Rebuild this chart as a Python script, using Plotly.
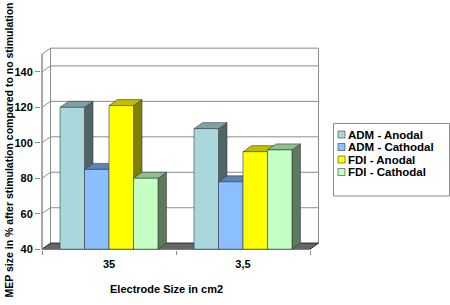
import plotly.graph_objects as go

# ---------------- data ----------------
categories = ["35", "3,5"]
series_names = ["ADM - Anodal", "ADM - Cathodal", "FDI - Anodal", "FDI - Cathodal"]
adm_anodal = [120, 108]
adm_cathodal = [85, 78]
fdi_anodal = [121, 95]
fdi_cathodal = [80, 96]
y_ticks = [40, 60, 80, 100, 120, 140]
y_top = 150
y_base = 40

series_values = [adm_anodal, adm_cathodal, fdi_anodal, fdi_cathodal]
front_colors = ["#A9D8DC", "#8CBFFF", "#FFFF00", "#C4FFC4"]
top_colors = ["#7EA1A4", "#5E82B6", "#BFBF00", "#8FBE8F"]
side_colors = ["#4F6466", "#46608A", "#7F7F00", "#5C7A5C"]

# ---------------- geometry ----------------
W, H = 450, 305
L, R, T, B = 41, 322, 40, 250
px_per_x = 134.0
px_per_y = 1.773
x0_px = 42.0          # pixel of x = -0.5
y40_px = 249.2        # pixel of y = 40
xmin = -0.5 - (x0_px - L) / px_per_x
xmax = xmin + (R - L) / px_per_x
ymin = y_base - (B - y40_px) / px_per_y
ymax = ymin + (B - T) / px_per_y
dx = 8.5 / px_per_x
dy = 6.0 / px_per_y
bargap = 0.269
n = len(series_values)
bw = (1 - bargap) / n
xs = list(range(len(categories)))
xl, xr = -0.5, len(categories) - 0.5

def poly(pts):
    return "M " + " L ".join(f"{a},{b}" for a, b in pts) + " Z"

shapes = []
grid_c = "#8C8C8C"
# back wall
shapes.append(dict(type="rect", x0=xl + dx, x1=xr + dx, y0=y_base + dy, y1=y_top + dy,
                   fillcolor="white", line=dict(color=grid_c, width=1), layer="below"))
# left side wall
shapes.append(dict(type="path", path=poly([(xl, y_base), (xl + dx, y_base + dy), (xl + dx, y_top + dy), (xl, y_top)]),
                   fillcolor="white", line=dict(color=grid_c, width=1), layer="below"))
# gridlines
for v in y_ticks[1:]:
    shapes.append(dict(type="line", x0=xl + dx, x1=xr + dx, y0=v + dy, y1=v + dy,
                       line=dict(color=grid_c, width=1), layer="below"))
    shapes.append(dict(type="line", x0=xl, x1=xl + dx, y0=v, y1=v + dy,
                       line=dict(color=grid_c, width=1), layer="below"))
# floor
shapes.append(dict(type="path", path=poly([(xl, y_base), (xr, y_base), (xr + dx, y_base + dy), (xl + dx, y_base + dy)]),
                   fillcolor="#666666", line=dict(color="#2a2a2a", width=1), layer="below"))
# front axis lines
shapes.append(dict(type="line", x0=xl, x1=xl, y0=y_base, y1=y_top,
                   line=dict(color=grid_c, width=1), layer="below"))
shapes.append(dict(type="line", x0=xl, x1=xr, y0=y_base, y1=y_base,
                   line=dict(color=grid_c, width=1), layer="below"))

# side faces then top faces
edge = dict(color="#3a3a3a", width=0.6)
side_shapes, top_shapes = [], []
for j, vals in enumerate(series_values):
    for i, v in enumerate(vals):
        left = xs[i] - (1 - bargap) / 2 + j * bw
        right = left + bw
        side_shapes.append(dict(type="path",
                                path=poly([(right, y_base), (right + dx, y_base + dy), (right + dx, v + dy), (right, v)]),
                                fillcolor=side_colors[j], line=edge, layer="below"))
        top_shapes.append(dict(type="path",
                               path=poly([(left, v), (left + dx, v + dy), (right + dx, v + dy), (right, v)]),
                               fillcolor=top_colors[j], line=edge, layer="below"))
shapes += side_shapes + top_shapes

fig = go.Figure()
for j, vals in enumerate(series_values):
    fig.add_trace(go.Bar(
        x=xs, y=[v - y_base for v in vals], base=y_base, name=series_names[j],
        marker=dict(color=front_colors[j], line=dict(color="#3a3a3a", width=0.6)),
        showlegend=False,
    ))

# ---------------- manual legend ----------------
def xp(p):
    return (p - L) / (R - L)

def yp(p):
    return (B - p) / (B - T)

shapes.append(dict(type="rect", xref="paper", yref="paper", x0=xp(333.5), x1=xp(449.5), y0=yp(123.5), y1=yp(196),
                   fillcolor="white", line=dict(color="#8C8C8C", width=1)))
annotations = []
row_y = [134.5, 147, 159.5, 172]
for j, name in enumerate(series_names):
    cy = row_y[j]
    shapes.append(dict(type="rect", xref="paper", yref="paper", x0=xp(338), x1=xp(345), y0=yp(cy + 3.5), y1=yp(cy - 3.5),
                       fillcolor=front_colors[j], line=dict(color="#3a3a3a", width=0.6)))
    annotations.append(dict(xref="paper", yref="paper", x=xp(346.5), y=yp(cy), text=name, showarrow=False,
                            xanchor="left", yanchor="middle", borderpad=0,
                            font=dict(family="Liberation Sans", size=11.5, weight="bold", color="black")))

annotations.append(dict(xref="paper", yref="paper", x=xp(8.5), y=yp(150),
                        text="MEP size in % after stimulation compared to no stimulation",
                        textangle=-90, showarrow=False, xanchor="center", yanchor="middle",
                        font=dict(family="Liberation Sans", size=10.5, weight="bold", color="black")))
annotations.append(dict(xref="paper", yref="paper", x=xp(166), y=yp(289), text="Electrode Size in cm2",
                        showarrow=False, xanchor="center", yanchor="middle",
                        font=dict(family="Liberation Sans", size=11, weight="bold", color="black")))

fig.update_layout(
    width=W, height=H,
    margin=dict(l=L, r=W - R, t=T, b=H - B, autoexpand=False),
    paper_bgcolor="white", plot_bgcolor="white",
    barmode="group", bargap=bargap, bargroupgap=0,
    shapes=shapes, annotations=annotations, showlegend=False,
    hovermode=False,
    xaxis=dict(range=[xmin, xmax], tickmode="array", tickvals=xs, ticktext=categories,
               showgrid=False, zeroline=False, showline=False, ticks="",
               ticklabelstandoff=6,
               tickfont=dict(family="Liberation Sans", size=11, weight="bold", color="black"),
               minor=dict(tickmode="array", tickvals=[xl, 0.5, xr], ticks="outside", ticklen=4,
                          tickcolor="#8C8C8C", tickwidth=1, showgrid=False)),
    yaxis=dict(range=[ymin, ymax], tickmode="array", tickvals=y_ticks,
               showgrid=False, zeroline=False, showline=False,
               ticks="outside", ticklen=5, tickcolor="#8C8C8C", tickwidth=1,
               tickfont=dict(family="Liberation Sans", size=11, weight="bold", color="black")),
)

fig.write_html("out.html", config={"displayModeBar": False},
               post_script="document.body.style.margin='0px';document.body.style.overflow='hidden';")
